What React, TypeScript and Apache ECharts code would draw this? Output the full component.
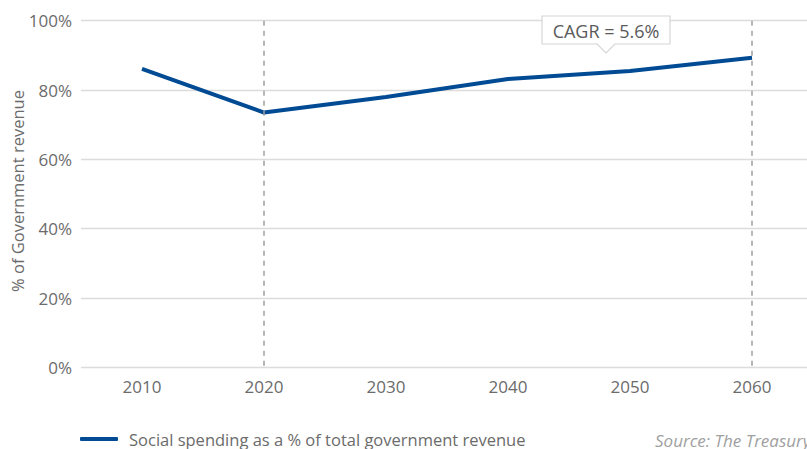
import React, { useEffect, useRef } from "react";
import * as echarts from "echarts";

const years = ["2010", "2020", "2030", "2040", "2050", "2060"];
const socialSpending = [86.1, 73.5, 78.0, 83.2, 85.5, 89.3];
const markedYears = ["2020", "2060"];
const seriesName = "Social spending as a % of total government revenue";
const yAxisName = "% of Government revenue";
const calloutText = "CAGR = 5.6%";
const sourceText = "Source: The Treasury";

const FONT = "'Open Sans', 'Noto Sans', sans-serif";
const TEXT = "#6b6b6b";

export default function App() {
  const ref = useRef<HTMLDivElement>(null);
  useEffect(() => {
    document.body.style.margin = "0";
    const chart = echarts.init(ref.current!, null, { renderer: "svg" });
    chart.setOption({
      animation: false,
      textStyle: { fontFamily: FONT },
      grid: { left: 81, right: -6, top: 20.7, bottom: 81.6, containLabel: false, outerBoundsMode: "none" },
      legend: {
        left: 75,
        top: 424,
        itemWidth: 38,
        itemHeight: 4,
        icon: "roundRect",
        textStyle: { fontSize: 16.5, color: TEXT, fontFamily: FONT, lineHeight: 20, padding: [0, 0, 0, 6] },
        data: [{ name: seriesName, itemStyle: { color: "#004b93", borderWidth: 0 } }],
      },
      xAxis: {
        type: "category",
        data: years,
        boundaryGap: true,
        axisLine: { show: false },
        axisTick: { show: false },
        axisLabel: { color: TEXT, fontSize: 17, margin: 11, fontFamily: FONT },
      },
      yAxis: {
        type: "value",
        min: 0,
        max: 100,
        interval: 20,
        axisLabel: { color: TEXT, fontSize: 17, margin: 9, formatter: "{value}%", fontFamily: FONT },
        splitLine: { lineStyle: { color: "#dcdcdc", width: 1.3 } },
        axisLine: { show: false },
        axisTick: { show: false },
      },
      series: [
        {
          name: seriesName,
          type: "line",
          data: socialSpending,
          symbol: "none",
          lineStyle: { color: "#004b93", width: 4 },
          itemStyle: { color: "#004b93" },
          markLine: {
            silent: true,
            symbol: "none",
            label: { show: false },
            lineStyle: { color: "#a0a0a0", type: [5, 5], width: 1.5 },
            data: markedYears.map((y) => [
              { coord: [y, 100] },
              { coord: [y, 0] },
            ]),
          },
        },
      ],
      graphic: [
        {
          type: "text",
          x: 17,
          y: 191,
          rotation: Math.PI / 2,
          style: {
            text: yAxisName,
            fill: TEXT,
            fontSize: 16.5,
            fontFamily: FONT,
            align: "center",
            verticalAlign: "middle",
          },
        },
        {
          type: "rect",
          shape: { x: 542, y: 16, width: 128, height: 28 },
          style: { fill: "#fff", stroke: "#d6d6d6", lineWidth: 1.2 },
          z: 100,
        },
        {
          type: "rect",
          shape: { x: 597.5, y: 42, width: 17, height: 4 },
          style: { fill: "#fff" },
          z: 101,
        },
        {
          type: "polyline",
          shape: { points: [[597, 44], [606, 53], [615, 44]] },
          style: { fill: "#fff", stroke: "#d6d6d6", lineWidth: 1.2 },
          z: 102,
        },
        {
          type: "text",
          x: 606,
          y: 31,
          style: {
            text: calloutText,
            fill: "#5a5a5a",
            fontSize: 18,
            fontFamily: FONT,
            align: "center",
            verticalAlign: "middle",
          },
          z: 103,
        },
        {
          type: "text",
          x: 655,
          y: 440,
          style: {
            text: sourceText,
            fill: "#a0a0a0",
            fontSize: 17,
            fontStyle: "italic",
            fontFamily: FONT,
            verticalAlign: "middle",
          },
        },
      ],
    });
    return () => chart.dispose();
  }, []);
  return <div ref={ref} style={{ position: "absolute", left: 0, top: 0, width: 807, height: 449 }} />;
}
